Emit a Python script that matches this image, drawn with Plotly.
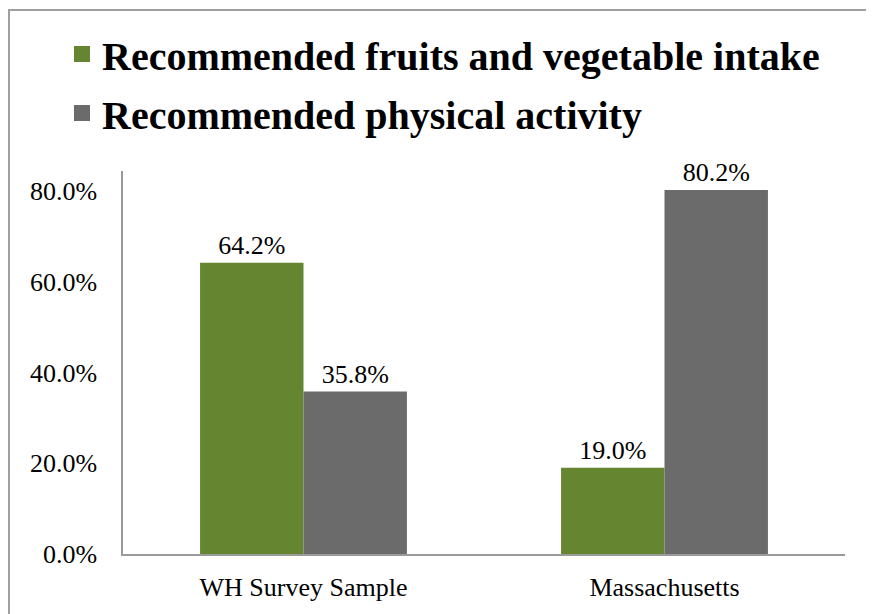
import plotly.graph_objects as go

categories = ["WH Survey Sample", "Massachusetts"]
fruit_veg = [64.2, 19.0]
physical = [35.8, 80.2]
series_names = ["Recommended fruits and vegetable intake", "Recommended physical activity"]
series_colors = ["#668530", "#6b6b6b"]
y_ticks = [0, 20, 40, 60, 80]
y_tick_labels = ["0.0%", "20.0%", "40.0%", "60.0%", "80.0%"]

FONT = "Liberation Serif, Times New Roman, serif"

# plot area (figure pixel coords)
L, R, T, B = 115, 837, 163, 546
W, H = R - L, B - T

fig = go.Figure()
for name, vals, col in zip(series_names, [fruit_veg, physical], series_colors):
    fig.add_trace(go.Bar(
        x=categories, y=vals, name=name, showlegend=False,
        marker=dict(color=col, line=dict(width=0)),
        text=[f"{v:.1f}%" for v in vals], textposition="outside",
        textfont=dict(size=26, color="black", family=FONT), cliponaxis=False,
    ))
for i, (name, col) in enumerate(zip(series_names, series_colors)):
    fig.add_trace(go.Scatter(
        x=[None], y=[None], name=name, mode="markers", legendgroup=f"g{i}",
        marker=dict(symbol="square", size=16, color=col),
    ))

fig.update_layout(
    width=874, height=614,
    margin=dict(l=L, r=874 - R, t=T, b=614 - B),
    paper_bgcolor="white", plot_bgcolor="white",
    font=dict(family=FONT, size=26, color="black"),
    barmode="group", bargap=0.427, bargroupgap=0,
    showlegend=True,
    legend=dict(
        x=(54 - L) / W, y=(B - 13.5) / H, xanchor="left", yanchor="top",
        font=dict(size=40, family=FONT, color="black", weight="bold"),
        bgcolor="rgba(0,0,0,0)", itemsizing="trace", tracegroupgap=4,
    ),
    xaxis=dict(
        showline=True, linecolor="#9a9a9a", linewidth=1.5,
        showgrid=False, ticks="", ticklabelstandoff=9,
        tickfont=dict(size=26, family=FONT, color="black"),
    ),
    yaxis=dict(
        range=[0, 84.4], tickvals=y_ticks, ticktext=y_tick_labels,
        showline=True, linecolor="#9a9a9a", linewidth=1.5,
        showgrid=False, zeroline=False, ticks="", ticklabelstandoff=19,
        tickfont=dict(size=26, family=FONT, color="black"),
    ),
    shapes=[dict(
        type="rect", xref="paper", yref="paper",
        x0=(1 - L) / W, x1=(862 - L) / W,
        y0=(B - 640) / H, y1=(B - 2) / H,
        line=dict(color="#a0a0a0", width=2), fillcolor="rgba(0,0,0,0)",
        layer="below",
    )],
)

fig.write_html("out.html")
